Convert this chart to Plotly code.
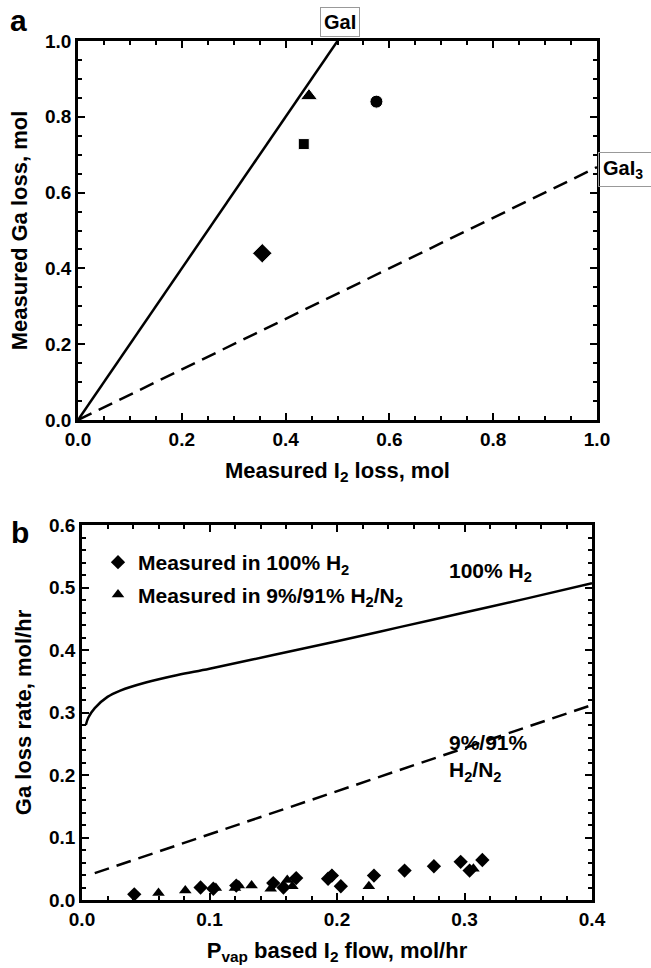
import plotly.graph_objects as go

W, H = 651, 968

# ---------- Panel a data ----------
a_pts_x = [0.445, 0.575, 0.435, 0.355]
a_pts_y = [0.855, 0.840, 0.728, 0.440]
a_pts_sym = ["triangle-up", "circle", "square", "diamond"]
a_pts_size = [15, 13, 11, 15]

gai_x = [0.0, 0.5]
gai_y = [0.0, 1.0]
gai3_x = [0.0, 1.0]
gai3_y = [0.0, 0.667]

# ---------- Panel b data ----------
h2_line_x = [0.003, 0.005, 0.01, 0.02, 0.03, 0.05, 0.075, 0.1, 0.15, 0.2, 0.25, 0.3, 0.35, 0.4]
h2_line_y = [0.280, 0.292, 0.307, 0.325, 0.335, 0.348, 0.360, 0.370, 0.392, 0.414, 0.437, 0.460, 0.483, 0.507]
mix_line_x = [0.01, 0.4]
mix_line_y = [0.043, 0.312]

h2_x = [0.041, 0.093, 0.103, 0.121, 0.150, 0.158, 0.168, 0.193, 0.196, 0.203, 0.229, 0.253, 0.276, 0.297, 0.304, 0.314]
h2_y = [0.009, 0.020, 0.018, 0.023, 0.027, 0.020, 0.035, 0.034, 0.039, 0.022, 0.039, 0.047, 0.054, 0.061, 0.047, 0.064]

mix_x = [0.060, 0.081, 0.105, 0.120, 0.123, 0.133, 0.148, 0.161, 0.165, 0.196, 0.225, 0.307]
mix_y = [0.011, 0.015, 0.019, 0.019, 0.023, 0.023, 0.018, 0.032, 0.022, 0.041, 0.022, 0.050]

FONT = "Liberation Sans, Arial, sans-serif"

def f(size):
    return dict(family=FONT, size=size, color="black", weight="bold")

fig = go.Figure()

# Panel a
fig.add_trace(go.Scatter(x=gai_x, y=gai_y, mode="lines", line=dict(color="black", width=2.5),
                         xaxis="x", yaxis="y", showlegend=False))
fig.add_trace(go.Scatter(x=gai3_x, y=gai3_y, mode="lines", line=dict(color="black", width=2.5, dash="15px,8px"),
                         xaxis="x", yaxis="y", showlegend=False))
fig.add_trace(go.Scatter(x=a_pts_x, y=a_pts_y, mode="markers",
                         marker=dict(color="black", symbol=a_pts_sym, size=a_pts_size, opacity=1),
                         xaxis="x", yaxis="y", showlegend=False))

# Panel b
fig.add_trace(go.Scatter(x=h2_line_x, y=h2_line_y, mode="lines", line=dict(color="black", width=2.5, shape="spline"),
                         xaxis="x2", yaxis="y2", showlegend=False))
fig.add_trace(go.Scatter(x=mix_line_x, y=mix_line_y, mode="lines", line=dict(color="black", width=2.5, dash="15px,8px"),
                         xaxis="x2", yaxis="y2", showlegend=False))
fig.add_trace(go.Scatter(x=h2_x, y=h2_y, mode="markers", name="Measured in 100% H<sub>2</sub>",
                         legendgroup="g1",
                         marker=dict(color="black", symbol="diamond", size=11, opacity=1),
                         xaxis="x2", yaxis="y2"))
fig.add_trace(go.Scatter(x=mix_x, y=mix_y, mode="markers", name="Measured in 9%/91% H<sub>2</sub>/N<sub>2</sub>",
                         legendgroup="g2",
                         marker=dict(color="black", symbol="triangle-up", size=11, opacity=1),
                         xaxis="x2", yaxis="y2"))

def ax(dom, rng, dtick, mdtick, title, standoff, anchor):
    return dict(domain=dom, range=rng, dtick=dtick, tick0=0, ticks="inside", ticklen=7, tickwidth=2,
                tickcolor="black", mirror="ticks", showline=True, linecolor="black", linewidth=2.8,
                showgrid=False, zeroline=False, anchor=anchor, tickformat=".1f", automargin=False,
                tickfont=f(19),
                minor=dict(dtick=mdtick, ticks="inside", ticklen=4, tickwidth=2, tickcolor="black", showgrid=False),
                title=dict(text=title, standoff=standoff, font=f(22)))

fig.update_layout(
    width=W, height=H, margin=dict(l=0, r=0, t=0, b=0, autoexpand=False),
    paper_bgcolor="white", plot_bgcolor="white",
    xaxis=ax([78 / W, 597 / W], [0, 1], 0.2, 0.05, "Measured I<sub>2</sub> loss, mol", 14, "y"),
    yaxis=ax([1 - 420 / H, 1 - 41 / H], [0, 1], 0.2, 0.05, "Measured Ga loss, mol", 12, "x"),
    xaxis2=ax([82 / W, 592 / W], [0, 0.4], 0.1, 0.02, "P<sub>vap</sub> based I<sub>2</sub> flow, mol/hr", 14, "y2"),
    yaxis2=ax([1 - 900 / H, 1 - 525 / H], [0, 0.6], 0.1, 0.02, "Ga loss rate, mol/hr", 12, "x2"),
    legend=dict(x=98 / W, y=1 - 542 / H, xanchor="left", yanchor="top", bgcolor="rgba(0,0,0,0)",
                font=f(21), tracegroupgap=2, traceorder="grouped", itemwidth=30),
    annotations=[
        dict(text="a", x=18 / W, y=1 - 20 / H, xref="paper", yref="paper", xanchor="center", yanchor="middle",
             showarrow=False, font=f(30)),
        dict(text="b", x=20 / W, y=1 - 532 / H, xref="paper", yref="paper", xanchor="center", yanchor="middle",
             showarrow=False, font=f(30)),
        dict(text="GaI", x=0.505, y=1 - 22 / H, xref="x", yref="paper", xanchor="center", yanchor="middle",
             showarrow=False, bordercolor="#999999", borderwidth=1, borderpad=3, bgcolor="white", font=f(20)),
        dict(text="GaI<sub>3</sub>\u00a0\u00a0", x=598 / W, y=0.66, xref="paper", yref="y", xanchor="left",
             yanchor="middle", showarrow=False, bordercolor="#999999", borderwidth=1, borderpad=4, font=f(20)),
        dict(text="100% H<sub>2</sub>", x=0.32, y=0.525, xref="x2", yref="y2", showarrow=False, font=f(21)),
        dict(text="9%/91%<br>H<sub>2</sub>/N<sub>2</sub>", x=0.286, y=0.228, xref="x2", yref="y2",
             xanchor="left", align="left", showarrow=False, font=f(21)),
    ],
)

fig.write_html("out.html", config={"displayModeBar": False},
               post_script="document.body.style.margin='0px';document.body.style.overflow='hidden';")
